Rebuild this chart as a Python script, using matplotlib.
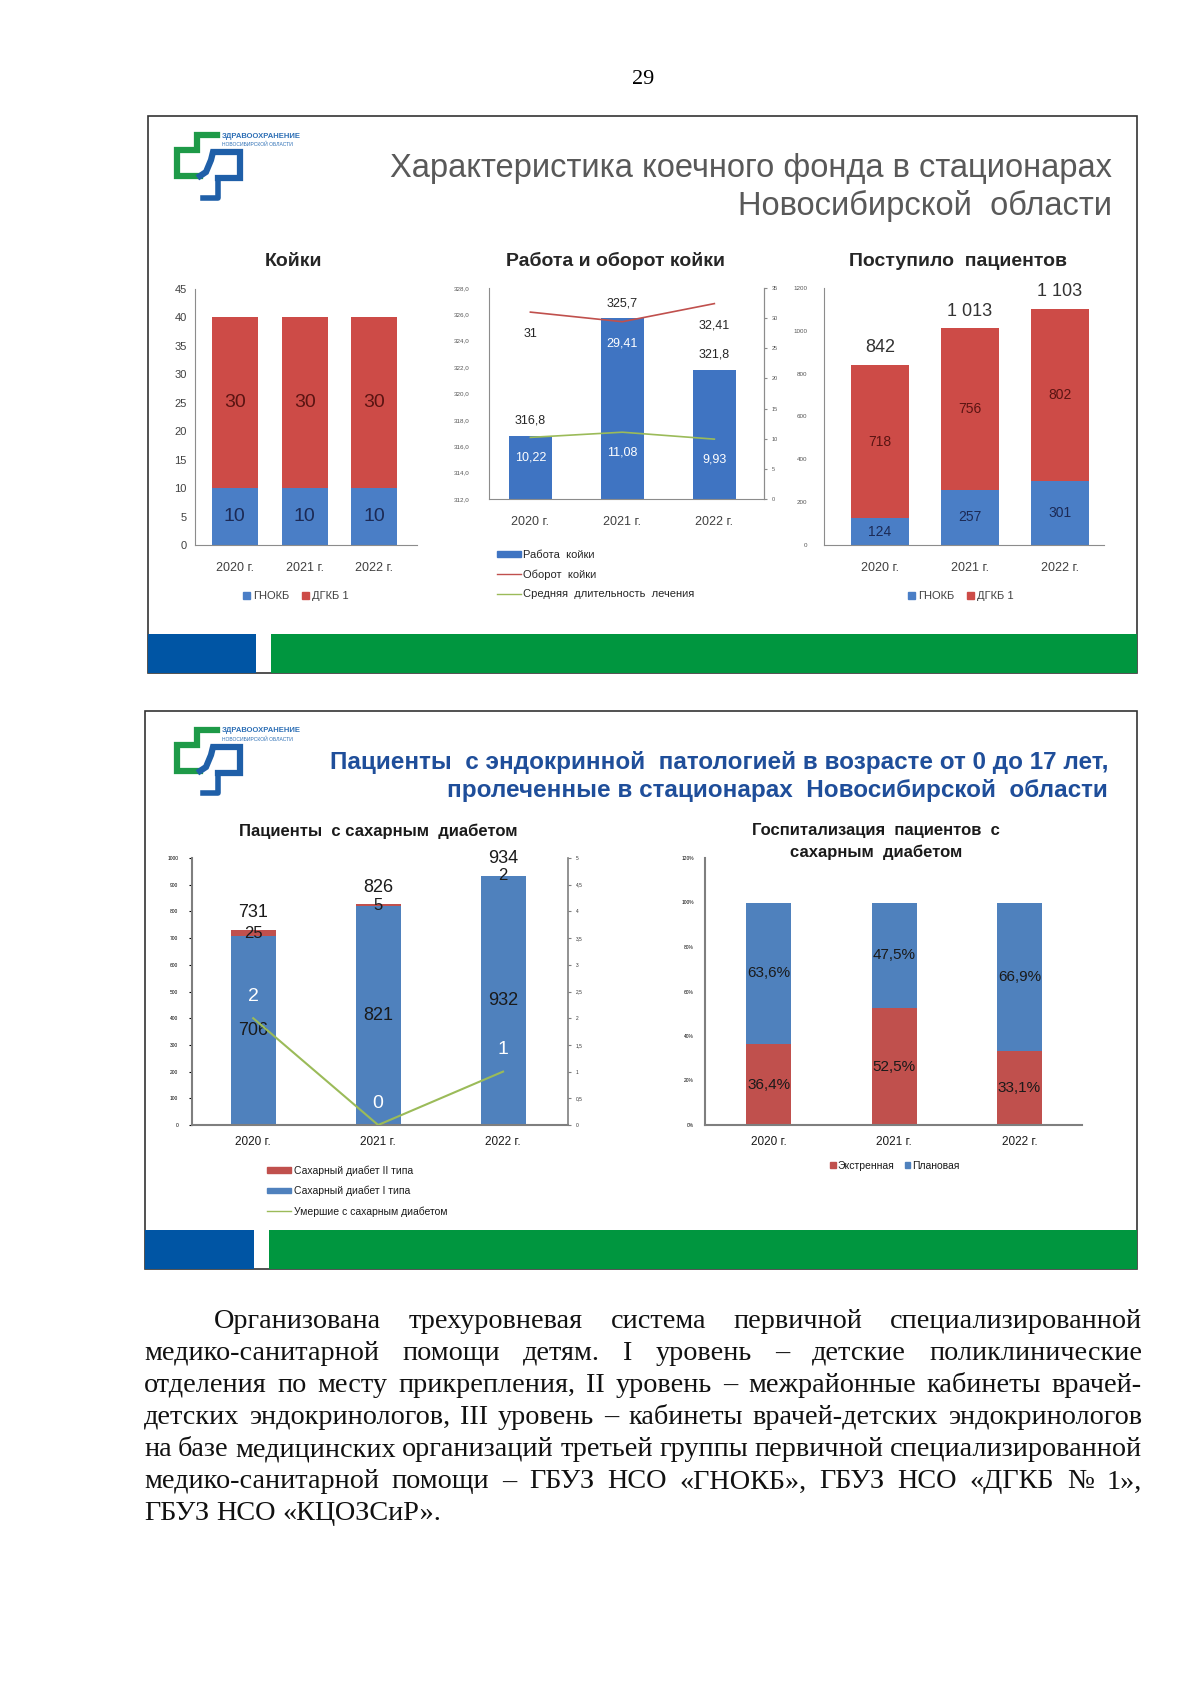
import numpy as np
import matplotlib.pyplot as plt
from matplotlib.patches import Rectangle, Patch
from matplotlib.lines import Line2D

W, H = 1200, 1697

years = ['2020 г.', '2021 г.', '2022 г.']

# Койки
beds_gnokb = [10, 10, 10]
beds_dgkb = [30, 30, 30]

# Работа и оборот койки
bed_work = [316.8, 325.7, 321.8]
bed_turnover = [31, 29.41, 32.41]
avg_stay = [10.22, 11.08, 9.93]

# Поступило пациентов
adm_gnokb = [124, 257, 301]
adm_dgkb = [718, 756, 802]

# Пациенты с сахарным диабетом
dm_type1 = [706, 821, 932]
dm_type2 = [25, 5, 2]
dm_deaths = [2, 0, 1]

# Госпитализация, %
hosp_emergency = [36.4, 52.5, 33.1]
hosp_planned = [63.6, 47.5, 66.9]

paragraph = [
    'Организована трехуровневая система первичной специализированной',
    'медико-санитарной помощи детям. I уровень – детские поликлинические',
    'отделения по месту прикрепления, II уровень – межрайонные кабинеты врачей-',
    'детских эндокринологов, III уровень – кабинеты врачей-детских эндокринологов',
    'на базе медицинских организаций третьей группы первичной специализированной',
    'медико-санитарной помощи – ГБУЗ НСО «ГНОКБ», ГБУЗ НСО «ДГКБ № 1»,',
    'ГБУЗ НСО «КЦОЗСиР».',
]

BLUE_T, RED_T = '#4A7EC6', '#CD4B47'
BLUE_B, RED_B = '#4F81BD', '#C0504D'
GREEN_L = '#9BBB59'
NARROW = ['Liberation Sans Narrow', 'Liberation Sans', 'DejaVu Sans']
SANS = ['Liberation Sans', 'DejaVu Sans']
SERIF = ['Liberation Serif', 'DejaVu Serif']

plt.rcParams['font.family'] = SANS


def box(x0, y0, x1, y1):
    return [x0 / W, 1 - y1 / H, (x1 - x0) / W, (y1 - y0) / H]


def fmt(v, nd=0):
    s = f'{v:,.{nd}f}'.replace(',', ' ').replace('.', ',')
    return s


def pt(px):
    return px * 0.72


fig = plt.figure(figsize=(12, 16.97), dpi=100)
bg = fig.add_axes([0, 0, 1, 1], zorder=-1)
bg.set_xlim(0, W)
bg.set_ylim(H, 0)
bg.axis('off')

# page number
bg.text(643, 80, '29', fontsize=16, family=SERIF, ha='center', va='center')


def draw_panel(x0, y0, x1, y1, bar_h, blue_end, green_start):
    bg.add_patch(Rectangle((x0, y0), x1 - x0, y1 - y0, fill=False, ec='#333333', lw=1.2))
    bg.add_patch(Rectangle((x0, y1 - bar_h), blue_end - x0, bar_h, fc='#0055A4', ec='none'))
    bg.add_patch(Rectangle((green_start, y1 - bar_h), x1 - green_start, bar_h, fc='#00963F', ec='none'))


def draw_logo(x, y, tcolor):
    g, b = '#1E9A48', '#1F5FA8'
    bg.plot([x + 44, x + 24, x + 24, x + 4, x + 4, x + 27],
            [y + 3, y + 3, y + 18, y + 18, y + 44, y + 44], color=g, lw=4.5,
            solid_joinstyle='miter')
    bg.plot([x + 27, x + 33, x + 38, x + 40, x + 67, x + 67, x + 45],
            [y + 44, y + 40, y + 28, y + 20, y + 20, y + 46, y + 46], color=b, lw=4.5,
            solid_joinstyle='miter')
    bg.plot([x + 45, x + 45, x + 30], [y + 46, y + 66, y + 66], color=b, lw=4)
    bg.text(x + 49, y + 4, 'ЗДРАВООХРАНЕНИЕ', fontsize=5.5, color=tcolor, weight='bold',
            family=NARROW, va='center')
    bg.text(x + 49, y + 12, 'НОВОСИБИРСКОЙ ОБЛАСТИ', fontsize=3.6, color=tcolor,
            family=NARROW, va='center')


draw_panel(148, 116, 1137, 673, 39, 256, 271)
draw_panel(145, 711, 1137, 1269, 39, 254, 269)
draw_logo(173, 132, '#2D6FB5')
draw_logo(173, 727, '#2D6FB5')

bg.text(1112, 168, 'Характеристика коечного фонда в стационарах', fontsize=23.5,
        family=NARROW, color='#595959', ha='right', va='center')
bg.text(1112, 206, 'Новосибирской  области', fontsize=23.5,
        family=NARROW, color='#595959', ha='right', va='center')
bg.text(1108, 763, 'Пациенты  с эндокринной  патологией в возрасте от 0 до 17 лет,',
        fontsize=17.5, family=NARROW, weight='bold', color='#1F4E9A', ha='right', va='center')
bg.text(1108, 791, 'пролеченные в стационарах  Новосибирской  области',
        fontsize=17.5, family=NARROW, weight='bold', color='#1F4E9A', ha='right', va='center')

for x, t in [(293, 'Койки'), (615, 'Работа и оборот койки'), (958, 'Поступило  пациентов')]:
    bg.text(x, 261, t, fontsize=14, family=NARROW, weight='bold', color='#262626',
            ha='center', va='center')
bg.text(378, 831, 'Пациенты  с сахарным  диабетом', fontsize=12, weight='bold',
        color='#1a1a1a', ha='center', va='center')
bg.text(876, 831, 'Госпитализация  пациентов  с', fontsize=12, weight='bold',
        color='#1a1a1a', ha='center', va='center')
bg.text(876, 852, 'сахарным  диабетом', fontsize=12, weight='bold',
        color='#1a1a1a', ha='center', va='center')

x = np.arange(len(years))


def style_axes(ax, spine_color='#8c8c8c'):
    ax.set_facecolor('none')
    for s in ['top', 'right']:
        ax.spines[s].set_visible(False)
    for s in ['left', 'bottom']:
        ax.spines[s].set_color(spine_color)
    ax.set_xticks(x)


# ---- Койки ----
ax1 = fig.add_axes(box(195, 289, 417, 545))
style_axes(ax1)
ax1.bar(x, beds_gnokb, 0.66, color=BLUE_T)
ax1.bar(x, beds_dgkb, 0.66, bottom=beds_gnokb, color=RED_T)
ax1.set_xlim(-0.57, 2.61)
ax1.set_ylim(0, 45)
ax1.set_yticks(range(0, 46, 5))
ax1.set_xticklabels(years)
ax1.tick_params(axis='y', length=0, labelsize=8, labelcolor='#404040', pad=6)
ax1.tick_params(axis='x', length=0, labelsize=9, labelcolor='#404040', pad=12)
for i in x:
    ax1.text(i, beds_gnokb[i] / 2, fmt(beds_gnokb[i]), ha='center', va='center',
             fontsize=14, color='#1c2a55')
    ax1.text(i, beds_gnokb[i] + beds_dgkb[i] / 2, fmt(beds_dgkb[i]), ha='center',
             va='center', fontsize=14, color='#5a1412')
ax1.legend([Patch(color=BLUE_T), Patch(color=RED_T)], ['ГНОКБ', 'ДГКБ 1'], loc='center',
           bbox_to_anchor=(296 / W, 1 - 596 / H), bbox_transform=fig.transFigure, ncol=2,
           frameon=False, fontsize=8, handlelength=0.6, handleheight=0.6,
           handletextpad=0.3, columnspacing=1.2, labelcolor='#404040')

# ---- Работа и оборот койки ----
ax2 = fig.add_axes(box(489, 288, 764, 499))
style_axes(ax2)
ax2.spines['right'].set_visible(True)
ax2.spines['right'].set_color('#8c8c8c')
ax2.bar(x, bed_work, 0.47, color='#3F74C2')
ax2.set_xlim(-0.45, 2.54)
ax2.set_ylim(312, 328)
ax2.set_yticks(np.arange(312, 329, 2))
ax2.set_yticklabels([fmt(v, 1) for v in np.arange(312, 329, 2)])
ax2.set_xticklabels(years)
ax2.tick_params(axis='y', length=0, labelsize=4.5, labelcolor='#555555', pad=14)
ax2.tick_params(axis='x', length=0, labelsize=9, labelcolor='#404040', pad=12)
ax2r = ax2.twinx()
ax2r.set_ylim(0, 35)
ax2r.set_yticks(range(0, 36, 5))
ax2r.tick_params(axis='y', length=2, labelsize=4, labelcolor='#555555', colors='#8c8c8c')
for s in ['top', 'left', 'bottom']:
    ax2r.spines[s].set_visible(False)
ax2r.spines['right'].set_color('#8c8c8c')
ax2r.plot(x, bed_turnover, color='#C0504D', lw=1.2)
ax2r.plot(x, avg_stay, color=GREEN_L, lw=1.2)
turn_colors = ['#262626', 'white', '#262626']
for i in x:
    ax2.annotate(fmt(bed_work[i], 1), (i, bed_work[i]), xytext=(0, pt(15)),
                 textcoords='offset points', ha='center', va='center', fontsize=9,
                 color='#262626')
    ax2r.annotate(fmt(bed_turnover[i], 2 if bed_turnover[i] % 1 else 0), (i, bed_turnover[i]),
                  xytext=(0, -pt(22)), textcoords='offset points', ha='center',
                  va='center', fontsize=9, color=turn_colors[i])
    ax2r.annotate(fmt(avg_stay[i], 2), (i, avg_stay[i]), xytext=(0, -pt(20)),
                  textcoords='offset points', ha='center', va='center', fontsize=9,
                  color='white')
ax2.legend([Patch(color='#3F74C2'), Line2D([], [], color='#C0504D', lw=1),
            Line2D([], [], color=GREEN_L, lw=1)],
           ['Работа  койки', 'Оборот  койки', 'Средняя  длительность  лечения'],
           loc='upper left', bbox_to_anchor=(487 / W, 1 - 540 / H),
           bbox_transform=fig.transFigure, frameon=False, fontsize=8,
           handlelength=2.2, handleheight=0.5, handletextpad=0.1, labelspacing=0.85,
           labelcolor='#262626')

# ---- Поступило пациентов ----
ax3 = fig.add_axes(box(824, 288, 1104, 545))
style_axes(ax3)
ax3.bar(x, adm_gnokb, 0.65, color=BLUE_T)
ax3.bar(x, adm_dgkb, 0.65, bottom=adm_gnokb, color=RED_T)
ax3.set_xlim(-0.62, 2.49)
ax3.set_ylim(0, 1200)
ax3.set_yticks(range(0, 1201, 200))
ax3.set_xticklabels(years)
ax3.tick_params(axis='y', length=0, labelsize=4.5, labelcolor='#555555', pad=12)
ax3.tick_params(axis='x', length=0, labelsize=9, labelcolor='#404040', pad=12)
for i in x:
    tot = adm_gnokb[i] + adm_dgkb[i]
    ax3.text(i, adm_gnokb[i] / 2, fmt(adm_gnokb[i]), ha='center', va='center',
             fontsize=10, color='#1c2a55')
    ax3.text(i, adm_gnokb[i] + adm_dgkb[i] / 2, fmt(adm_dgkb[i]), ha='center',
             va='center', fontsize=10, color='#5a1412')
    ax3.annotate(fmt(tot), (i, tot), xytext=(0, pt(17)), textcoords='offset points',
                 ha='center', va='center', fontsize=13, color='#333333')
ax3.legend([Patch(color=BLUE_T), Patch(color=RED_T)], ['ГНОКБ', 'ДГКБ 1'], loc='center',
           bbox_to_anchor=(961 / W, 1 - 596 / H), bbox_transform=fig.transFigure, ncol=2,
           frameon=False, fontsize=8, handlelength=0.6, handleheight=0.6,
           handletextpad=0.3, columnspacing=1.2, labelcolor='#404040')

# ---- Пациенты с сахарным диабетом ----
ax4 = fig.add_axes(box(192, 858, 568, 1125))
style_axes(ax4, '#7f7f7f')
ax4.bar(x, dm_type1, 0.36, color=BLUE_B)
ax4.bar(x, dm_type2, 0.36, bottom=dm_type1, color=RED_B)
ax4.set_xlim(-0.49, 2.52)
ax4.set_ylim(0, 1000)
ax4.set_yticks(range(0, 1001, 100))
ax4.set_xticklabels(years)
ax4.spines['bottom'].set_linewidth(1.5)
ax4.spines['left'].set_linewidth(1.5)
ax4.tick_params(axis='y', length=2, labelsize=3.5, pad=8)
ax4.tick_params(axis='x', length=0, labelsize=8.5, labelcolor='#1a1a1a', pad=8)
ax4r = ax4.twinx()
ax4r.set_ylim(0, 5)
ax4r.set_yticks(np.arange(0, 5.01, 0.5))
ax4r.set_yticklabels([fmt(v, 1).replace(',0', '') for v in np.arange(0, 5.01, 0.5)])
ax4r.tick_params(axis='y', length=2, labelsize=3.5, colors='#7f7f7f', labelcolor='#333333')
for s in ['top', 'left', 'bottom']:
    ax4r.spines[s].set_visible(False)
ax4r.spines['right'].set_color('#7f7f7f')
ax4r.spines['right'].set_linewidth(1.2)
ax4r.plot(x, dm_deaths, color=GREEN_L, lw=1.5)
for i in x:
    tot = dm_type1[i] + dm_type2[i]
    ax4.text(i, dm_type1[i] / 2, fmt(dm_type1[i]), ha='center', va='center',
             fontsize=13, color='#1a1a1a')
    ax4.text(i, dm_type1[i] + dm_type2[i] / 2, fmt(dm_type2[i]), ha='center',
             va='center', fontsize=12, color='#1a1a1a')
    ax4.annotate(fmt(tot), (i, tot), xytext=(0, pt(17)), textcoords='offset points',
                 ha='center', va='center', fontsize=13, color='#1a1a1a')
    ax4r.annotate(fmt(dm_deaths[i]), (i, dm_deaths[i]), xytext=(0, pt(22)),
                  textcoords='offset points', ha='center', va='center', fontsize=14,
                  color='white')
ax4.legend([Patch(color=RED_B), Patch(color=BLUE_B), Line2D([], [], color=GREEN_L, lw=1)],
           ['Сахарный диабет II типа', 'Сахарный диабет I типа',
            'Умершие с сахарным диабетом'],
           loc='upper left', bbox_to_anchor=(258 / W, 1 - 1156 / H),
           bbox_transform=fig.transFigure, frameon=False, fontsize=7.5,
           handlelength=2.3, handleheight=0.5, handletextpad=0.3, labelspacing=0.95,
           labelcolor='#1a1a1a')

# ---- Госпитализация пациентов с сахарным диабетом ----
ax5 = fig.add_axes(box(705, 858, 1082, 1125))
style_axes(ax5, '#7f7f7f')
ax5.bar(x, hosp_emergency, 0.36, color=RED_B)
ax5.bar(x, hosp_planned, 0.36, bottom=hosp_emergency, color=BLUE_B)
ax5.set_xlim(-0.51, 2.5)
ax5.set_ylim(0, 120)
ax5.set_yticks(range(0, 121, 20))
ax5.set_yticklabels([f'{v}%' for v in range(0, 121, 20)])
ax5.set_xticklabels(years)
ax5.spines['bottom'].set_linewidth(1.5)
ax5.spines['left'].set_linewidth(1.5)
ax5.tick_params(axis='y', length=0, labelsize=3.5, pad=8)
ax5.tick_params(axis='x', length=0, labelsize=8.5, labelcolor='#1a1a1a', pad=8)
for i in x:
    ax5.text(i, hosp_emergency[i] / 2, fmt(hosp_emergency[i], 1) + '%', ha='center',
             va='center', fontsize=11, color='#1a1a1a')
    ax5.text(i, hosp_emergency[i] + hosp_planned[i] / 2, fmt(hosp_planned[i], 1) + '%',
             ha='center', va='center', fontsize=11, color='#1a1a1a')
ax5.legend([Patch(color=RED_B), Patch(color=BLUE_B)], ['Экстренная', 'Плановая'],
           loc='center', bbox_to_anchor=(895 / W, 1 - 1166 / H),
           bbox_transform=fig.transFigure, ncol=2, frameon=False, fontsize=7.5,
           handlelength=0.5, handleheight=0.5, handletextpad=0.2, columnspacing=1.0,
           labelcolor='#1a1a1a')

# ---- paragraph, justified ----
fig.canvas.draw()
rend = fig.canvas.get_renderer()
FS = 20.3
left, right, indent = 144, 1142, 214
line_y = [1321, 1353, 1385, 1417, 1450, 1482, 1514]


def text_width(s, fs):
    t = bg.text(0, 0, s, fontsize=fs, family=SERIF)
    w = t.get_window_extent(rend).width
    t.remove()
    return w


for n, line in enumerate(paragraph):
    x0 = indent if n == 0 else left
    words = line.split(' ')
    last = n == len(paragraph) - 1
    fs = FS
    widths = [text_width(w, fs) for w in words]
    if not last:
        gap = (right - x0 - sum(widths)) / (len(words) - 1)
        while gap < 6:
            fs -= 0.3
            widths = [text_width(w, fs) for w in words]
            gap = (right - x0 - sum(widths)) / (len(words) - 1)
    else:
        gap = text_width('a a', fs) - 2 * text_width('a', fs)
    cx = x0
    for w, ww in zip(words, widths):
        bg.text(cx, line_y[n], w, fontsize=fs, family=SERIF, ha='left', va='center',
                color='#111111')
        cx += ww + gap

fig.savefig('out.png', dpi=100)
